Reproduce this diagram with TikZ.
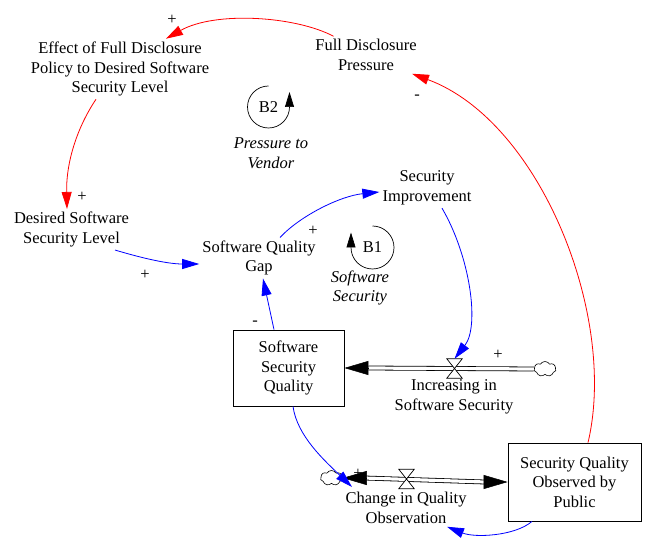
\documentclass[tikz,border=0pt]{standalone}
\usepackage{fontspec}
\setmainfont{Liberation Serif}
\usetikzlibrary{arrows.meta,shapes.symbols}
\begin{document}
\begin{tikzpicture}[x=1pt,y=1pt,
  every node/.style={font=\fontsize{16.5}{19.5}\selectfont},
  var/.style={align=center,inner sep=3pt},
  loopname/.style={align=center,inner sep=0pt,font=\fontsize{16.5}{19.5}\selectfont\itshape},
  stock/.style={draw,line width=0.8pt,align=center,inner sep=0pt},
  cloudsrc/.style={cloud,cloud puffs=7,cloud puff arc=120,aspect=1.5,draw,line width=0.6pt,
    inner sep=0pt,minimum width=22pt,minimum height=15pt,fill=white},
  valve/.style={minimum width=15pt,minimum height=19pt,inner sep=0pt},
  link/.style={line width=0.8pt,-{Triangle[length=17pt,width=10pt]}},
  poslink/.style={link,blue},
  redlink/.style={link,red},
  pipe/.style={draw=black,double=white,double distance=3.2pt,line width=0.8pt},
  flowhead/.style={line width=0.5pt,-{Triangle[length=24pt,width=14pt]}},
  sign/.style={inner sep=0pt},
  loopdir/.style={line width=0.7pt,-{Triangle[length=15pt,width=9pt]}}
]
\useasboundingbox (0,0) rectangle (645,541);

% auxiliaries
\node[var] (fdp)  at (366,486)   {Full Disclosure\\Pressure};
\node[var] (eff)  at (120,472)   {Effect of Full Disclosure\\Policy to Desired Software\\Security Level};
\node[var] (dssl) at (71.5,311.5){Desired Software\\Security Level};
\node[var] (sqg)  at (259,283)   {Software Quality\\Gap};
\node[var] (si)   at (427,353)   {Security\\Improvement};

% stocks
\node[stock,minimum width=111pt,minimum height=76pt] (ssq)  at (288.5,173) {Software\\Security\\Quality};
\node[stock,minimum width=133pt,minimum height=78pt] (sqop) at (574.5,59)  {Security Quality\\Observed by\\Public};

% flows: pipes, sources, valves
\node[valve] (v1) at (454.5,172.5) {};
\node[valve] (v2) at (406.5,62) {};
\node[cloudsrc] (c1) at (545,172) {};
\node[cloudsrc] (c2) at (331.5,63) {};

\draw[pipe] (c1.west) -- ([xshift=24pt]ssq.east);
\draw[flowhead] ([xshift=24pt]ssq.east) -- (ssq.east);

\draw[pipe] ([xshift=22pt]c2.east) -- ([xshift=-23pt]sqop.west);
\draw[flowhead] ([xshift=22pt]c2.east) -- (c2.east);
\draw[flowhead] ([xshift=-23pt]sqop.west) -- (sqop.west);

\filldraw[fill=white,line width=0.7pt] (v1.north west) -- (v1.north east) -- (v1.south west) -- (v1.south east) -- cycle;
\filldraw[fill=white,line width=0.7pt] (v2.north west) -- (v2.north east) -- (v2.south west) -- (v2.south east) -- cycle;

\node[var] (inc) at (454,144) {Increasing in\\Software Security};
\node[var] (chg) at (406,33)  {Change in Quality\\Observation};

% loop markers
\node (b2) at (268.5,434) {B2};
\draw[loopdir] (b2.center) ++(90:21) arc[start angle=90,end angle=360,radius=21] -- ++(0,15);
\node[loopname] (b2n) at (271,388) {Pressure to\\Vendor};

\node (b1) at (372.5,293.5) {B1};
\draw[loopdir] (b1.center) ++(90:21.5) arc[start angle=90,end angle=-180,radius=21.5] -- ++(0,15);
\node[loopname] (b1n) at (360,253) {Software\\Security};

% causal links
\draw[redlink] (fdp.150) .. controls (295,525) and (215,530) .. ([xshift=46pt]eff.north);
\draw[redlink] ([xshift=-24pt]eff.south) .. controls (78,415) and (66,380) .. ([xshift=-4.5pt]dssl.north);
\draw[poslink] ([xshift=43.5pt]dssl.south) .. controls (135,285) and (165,277) .. ([yshift=-6pt]sqg.west);
\draw[poslink] ([xshift=-14.5pt]ssq.north) -- ([xshift=4pt]sqg.south);
\draw[poslink] ([xshift=21pt]sqg.north) .. controls (300,325) and (340,345) .. ([yshift=-4pt]si.west);
\draw[poslink] ([xshift=15pt]si.south) .. controls (470,285) and (480,215) .. (v1.north);
\draw[poslink] ([xshift=4.5pt]ssq.south) .. controls (297,105) and (325,80) .. ([shift={(20.5,-9)}]c2.center);
\draw[poslink] ([xshift=-42.5pt]sqop.south) .. controls (515,5) and (475,3) .. ([xshift=41pt]chg.south);
\draw[redlink] ([xshift=13.5pt]sqop.north) .. controls (618,225) and (540,420) .. ([xshift=46pt]fdp.south);

% polarities
\node[sign] (p1) at (172,521) {+};
\node[sign] (p2) at (82,344)  {+};
\node[sign] (p3) at (145,266) {+};
\node[sign] (p4) at (255,218) {-};
\node[sign] (p5) at (313,310) {+};
\node[sign] (p6) at (498,186) {+};
\node[sign] (p7) at (417,444) {-};
\node[sign] (p8) at (358,67)  {+};
\end{tikzpicture}
\end{document}
